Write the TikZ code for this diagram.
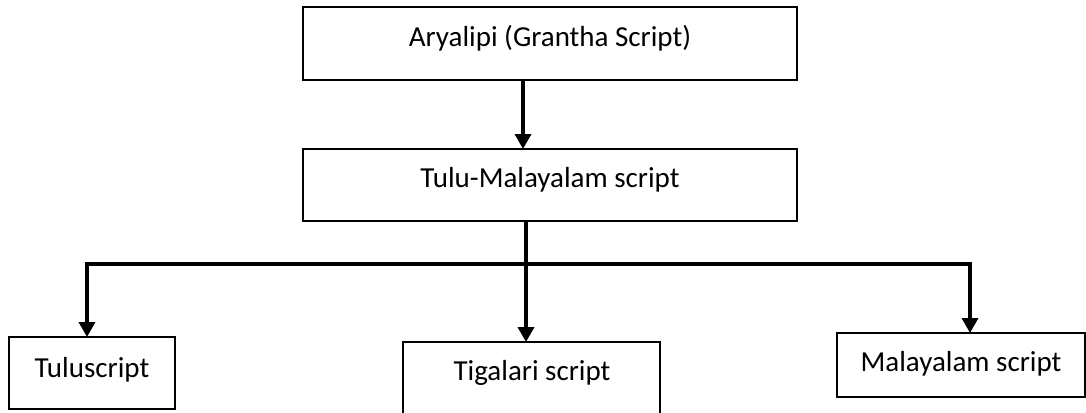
\documentclass[tikz,border=0pt]{standalone}
\usepackage{fontspec}
\setmainfont{Carlito}
\usetikzlibrary{arrows.meta}
\begin{document}
\begin{tikzpicture}[x=1pt,y=-1pt,
  box/.style={draw, line width=1.5pt, inner sep=0pt, outer sep=0pt},
  lbl/.style={anchor=base, inner sep=0pt, font=\fontsize{29}{34}\selectfont},
  conn/.style={line width=3.5pt},
  arr/.style={line width=3.5pt, -{Triangle[width=16pt,length=15pt]}}]
\clip (0,0) rectangle (1086,412);
% boxes
\node[box, minimum width=494pt, minimum height=73pt] (a) at (550,43.5) {};
\node[box, minimum width=494pt, minimum height=72pt] (b) at (550,185) {};
\node[box, minimum width=166pt, minimum height=72pt] (t1) at (92,373) {};
\node[box, minimum width=257pt, minimum height=86pt] (t2) at (531.5,385) {};
\node[box, minimum width=248pt, minimum height=64pt] (t3) at (961,365) {};
% labels
\node[lbl] (la) at (550,47) {Aryalipi (Grantha Script)};
\node[lbl] (lb) at (550,187) {Tulu-Malayalam script};
\node[lbl] (l1) at (92,377) {Tuluscript};
\node[lbl] (l2) at (532,380) {Tigalari script};
\node[lbl] (l3) at (961,371) {Malayalam script};
% junction coordinates
\coordinate (p1) at (523,0);
\coordinate (p2) at (526,0);
\coordinate (hL) at (87,264);
\coordinate (hR) at (970,264);
% connectors
\draw[arr] (a.south -| p1) -- (b.north -| p1);
\draw[conn] ([xshift=-2pt]hL) -- ([xshift=2pt]hR);
\draw[arr] (b.south -| p2) -- (t2.north -| p2);
\draw[arr] (hL) -- (hL |- t1.north);
\draw[arr] (hR) -- (hR |- t3.north);
\end{tikzpicture}
\end{document}
